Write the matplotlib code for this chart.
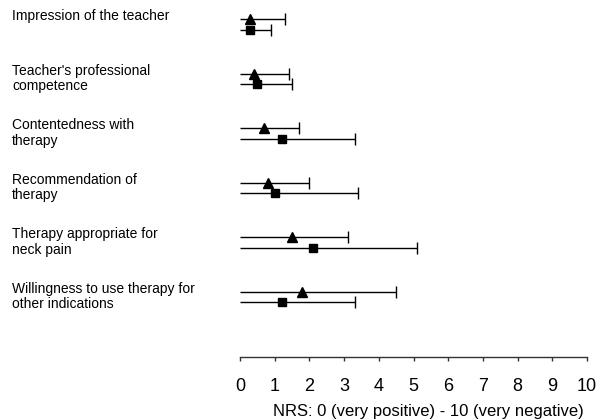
import matplotlib
matplotlib.use("Agg")
import matplotlib.pyplot as plt
from matplotlib.transforms import blended_transform_factory

plt.rcParams['font.family'] = ['Liberation Sans', 'DejaVu Sans']

categories = [
    "Impression of the teacher",
    "Teacher's professional\ncompetence",
    "Contentedness with\ntherapy",
    "Recommendation of\ntherapy",
    "Therapy appropriate for\nneck pain",
    "Willingness to use therapy for\nother indications",
]
tri_mean = [0.3, 0.4, 0.7, 0.8, 1.5, 1.8]
tri_upper = [1.3, 1.4, 1.7, 2.0, 3.1, 4.5]
sq_mean = [0.3, 0.5, 1.2, 1.0, 2.1, 1.2]
sq_upper = [0.9, 1.5, 3.3, 3.4, 5.1, 3.3]
xticks = list(range(0, 11))

fig = plt.figure(figsize=(5.99, 4.20), dpi=100)
ax = fig.add_axes([240/599, (420-357)/420, (587-240)/599, 357/420])
ax.set_xlim(0, 10)
ax.set_ylim(6.1, -0.45)

off = 0.1
for i in range(len(categories)):
    yt = i - off
    ys = i + off
    ax.hlines(yt, 0, tri_upper[i], color='black', lw=1, clip_on=False)
    ax.hlines(ys, 0, sq_upper[i], color='black', lw=1, clip_on=False)
    ax.plot([tri_upper[i]], [yt], marker='|', ms=9, mew=1, color='black', clip_on=False)
    ax.plot([sq_upper[i]], [ys], marker='|', ms=9, mew=1, color='black', clip_on=False)
    ax.plot([tri_mean[i]], [yt], marker='^', ms=7, color='black', ls='none', clip_on=False)
    ax.plot([sq_mean[i]], [ys], marker='s', ms=5.5, color='black', ls='none', clip_on=False)

trans = blended_transform_factory(fig.transFigure, ax.transData)
for i, lab in enumerate(categories):
    ax.text(12/599, i - off - 0.18, lab, transform=trans, ha='left', va='top',
            fontsize=10, linespacing=1.12)

for s in ['top', 'right', 'left']:
    ax.spines[s].set_visible(False)
ax.spines['bottom'].set_color('#333333')
ax.spines['bottom'].set_linewidth(1)
ax.set_yticks([])
ax.set_xticks(xticks)
ax.set_xticklabels([str(t) for t in xticks], fontsize=13)
ax.tick_params(axis='x', direction='out', length=3, width=1, color='#333333', pad=12)
ax.set_xlabel("NRS: 0 (very positive) - 10 (very negative)", fontsize=12)
ax.xaxis.set_label_coords((428.5 - 240) / 347, -47 / 357)

fig.savefig("out.png", dpi=100)
